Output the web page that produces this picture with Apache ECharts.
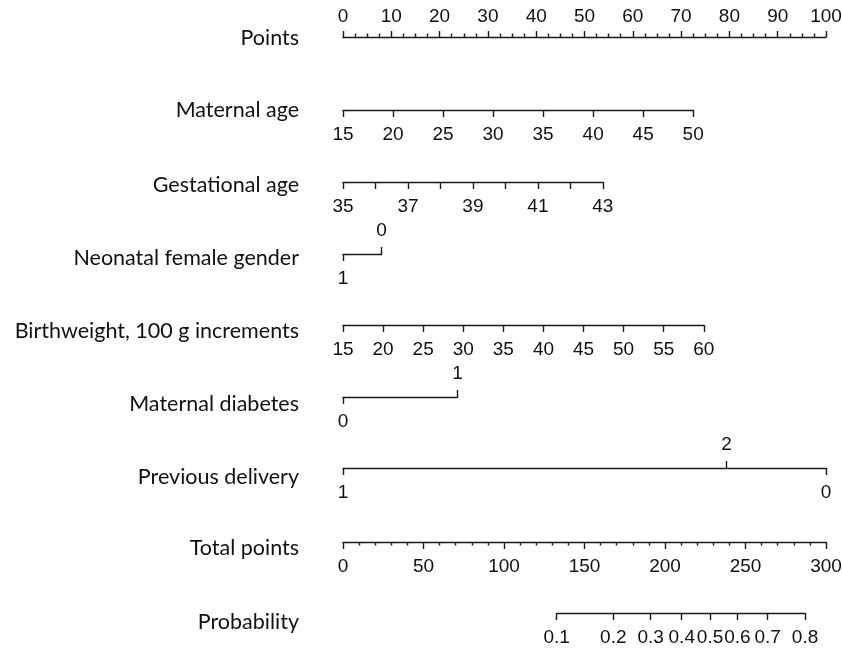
<!DOCTYPE html>
<html><head><meta charset="utf-8">
<script src="https://cdn.jsdelivr.net/npm/echarts@6/dist/echarts.min.js"></script>
<style>html,body{margin:0;padding:0;background:#fff}#c{width:842px;height:651px}</style>
</head><body><div id="c"></div>
<script>
// ---------- data ----------
const rowNames = ['Points', 'Maternal age', 'Gestational age', 'Neonatal female gender',
  'Birthweight, 100 g increments', 'Maternal diabetes', 'Previous delivery', 'Total points', 'Probability'];

const pointsRange = [0, 100];          // points scale
const pointsStep = 10;

const matAgeRange = [15, 50];          // years
const matAgePoints = [0, 72.5];        // points at range ends
const matAgeStep = 5;

const gestAgeRange = [35, 43];         // weeks
const gestAgePoints = [0, 53.8];
const gestAgeStep = 1;
const gestAgeLabels = [35, 37, 39, 41, 43];

const genderLevels = ['1', '0'];
const genderPoints = [0, 8.0];

const bwRange = [15, 60];              // 100 g units
const bwPoints = [0, 74.7];
const bwStep = 5;

const diabetesLevels = ['0', '1'];
const diabetesPoints = [0, 23.7];

const prevLevels = ['1', '2', '0'];
const prevPoints = [0, 79.4, 100];

const totalRange = [0, 300];
const totalStep = 50;

const probLevels = ['0.1', '0.2', '0.3', '0.4', '0.5', '0.6', '0.7', '0.8'];
const probTotalPoints = [132.7, 167.9, 191.1, 210.4, 228.0, 245.0, 263.8, 287.0];

// labels drawn above the line (rest below)
const genderAbove = ['0'];
const diabetesAbove = ['1'];
const prevAbove = ['2'];

// ---------- layout / style ----------
const X0 = 343, X1 = 826;
const PPP = (X1 - X0) / (pointsRange[1] - pointsRange[0]);
const TPP = (X1 - X0) / (totalRange[1] - totalRange[0]);
const rowY = [37, 110, 182, 254, 325, 397, 468, 542, 613];
const nameY = [39, 111, 186, 259, 332, 405, 478, 549, 623];
const LC = '#1a1a1a', LW = 1.4;
const TICK_FONT = 'Liberation Sans, Arial, sans-serif';
const NAME_FONT = 'Lato, "Open Sans", sans-serif';
const NAME_SIZE = 21.5;

const grids = [], xAxes = [], yAxes = [];

function addGrid(y, left, width) {
  grids.push({ left: left, top: y, width: width, height: 0, outerBoundsMode: 'none', containLabel: false });
  yAxes.push({ gridIndex: grids.length - 1, type: 'value', min: 0, max: 1, show: false });
  return grids.length - 1;
}
function baseAxis(gi, pos, extra) {
  const a = {
    gridIndex: gi, type: 'value', position: pos,
    axisLine: { show: true, onZero: false, lineStyle: { color: LC, width: LW } },
    axisTick: { show: true, inside: false, length: 7, lineStyle: { color: LC, width: LW } },
    axisLabel: { show: true, margin: pos === 'top' ? 14 : 15, fontFamily: TICK_FONT, fontSize: 19, color: '#111',
      showMinLabel: true, showMaxLabel: true, hideOverlap: false },
    splitLine: { show: false }
  };
  return Object.assign(a, extra);
}
function nearestLabel(levels, pts, v) {
  let bi = 0;
  pts.forEach((p, i) => { if (Math.abs(p - v) < Math.abs(pts[bi] - v)) bi = i; });
  return levels[bi];
}
// continuous row in native units
function contRow(r, range, pts, step, pos, labelFilter, minor) {
  const gi = addGrid(rowY[r], X0 + pts[0] * PPP, (pts[1] - pts[0]) * PPP);
  const ax = baseAxis(gi, pos, { min: range[0], max: range[1], interval: step });
  if (labelFilter) ax.axisLabel.formatter = v => (labelFilter.indexOf(Math.round(v)) >= 0 ? String(Math.round(v)) : '');
  if (minor) ax.minorTick = { show: true, splitNumber: minor, length: 3.5, lineStyle: { color: LC, width: LW } };
  xAxes.push(ax);
  return ax;
}
// nominal / custom-valued row in points units
function levelRow(r, levels, pts, above, scale, origin) {
  const lo = Math.min.apply(null, pts), hi = Math.max.apply(null, pts);
  const gi = addGrid(rowY[r], X0 + (lo - origin) * scale, (hi - lo) * scale);
  const up = pts.filter((p, i) => above.indexOf(levels[i]) >= 0);
  const down = pts.filter((p, i) => above.indexOf(levels[i]) < 0);
  const fmt = v => nearestLabel(levels, pts, v);
  const bottom = baseAxis(gi, 'bottom', { min: lo, max: hi });
  bottom.axisTick.customValues = down;
  bottom.axisLabel.customValues = down;
  bottom.axisLabel.formatter = fmt;
  xAxes.push(bottom);
  if (up.length) {
    const top = baseAxis(gi, 'top', { min: lo, max: hi });
    top.axisLine.show = false;
    top.axisTick.customValues = up;
    top.axisLabel.customValues = up;
    top.axisLabel.formatter = fmt;
    xAxes.push(top);
  }
}

const pointsAxis = contRow(0, pointsRange, pointsRange, pointsStep, 'top', null, 4);
pointsAxis.axisLabel.margin = 11;
pointsAxis.axisTick.length = 6;
contRow(1, matAgeRange, matAgePoints, matAgeStep, 'bottom');
contRow(2, gestAgeRange, gestAgePoints, gestAgeStep, 'bottom', gestAgeLabels);
levelRow(3, genderLevels, genderPoints, genderAbove, PPP, 0);
contRow(4, bwRange, bwPoints, bwStep, 'bottom');
levelRow(5, diabetesLevels, diabetesPoints, diabetesAbove, PPP, 0);
levelRow(6, prevLevels, prevPoints, prevAbove, PPP, 0);
(function () {
  const gi = addGrid(rowY[7], X0, X1 - X0);
  const ax = baseAxis(gi, 'bottom', { min: totalRange[0], max: totalRange[1], interval: totalStep });
  ax.minorTick = { show: true, splitNumber: 5, length: 3.5, lineStyle: { color: LC, width: LW } };
  xAxes.push(ax);
})();
levelRow(8, probLevels, probTotalPoints, [], TPP, totalRange[0]);

const graphic = rowNames.map((n, i) => ({
  type: 'text', right: 842 - 299, top: nameY[i] - NAME_SIZE / 2 - 1,
  style: { text: n, font: NAME_SIZE + 'px ' + NAME_FONT, fill: '#111', textAlign: 'right', textVerticalAlign: 'top' }
}));

const chart = echarts.init(document.getElementById('c'), null, { renderer: 'canvas' });
chart.setOption({
  animation: false,
  backgroundColor: '#fff',
  grid: grids, xAxis: xAxes, yAxis: yAxes,
  graphic: graphic,
  series: []
});
</script></body></html>
